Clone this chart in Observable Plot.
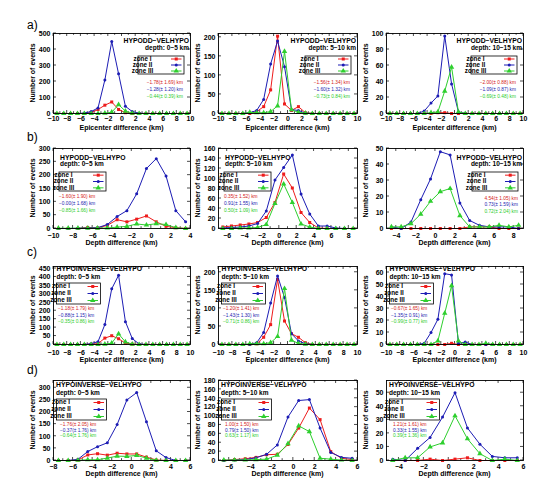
<!DOCTYPE html>
<html><head><meta charset="utf-8">
<script src="https://cdn.jsdelivr.net/npm/d3@7"></script>
<script src="https://cdn.jsdelivr.net/npm/@observablehq/plot@0.6"></script>
<style>
body{margin:0;background:#fff;}
#root{position:relative;width:558px;height:485px;overflow:hidden;font-family:"Liberation Sans",Arial,Helvetica,sans-serif;}
.rowlab{position:absolute;font-size:12px;line-height:12px;color:#000;}
</style></head><body><div id="root"></div>
<script>
// ---------- data ----------
const zoneNames = ["zone I", "zone II", "zone III"];
const epiX = [-9.5,-8.5,-7.5,-6.5,-5.5,-4.5,-3.5,-2.5,-1.5,-0.5,0.5,1.5,2.5,3.5,4.5,5.5,6.5,7.5,8.5,9.5];
const b1X = [-9.5,-8.5,-7.5,-6.5,-5.5,-4.5,-3.5,-2.5,-1.5,-0.5,0.5,1.5,2.5,3.5];
const b2X = [-6.5,-5.5,-4.5,-3.5,-2.5,-1.5,-0.5,0.5,1.5,2.5,3.5,4.5,5.5,6.5,7.5,8.5];
const b3X = [-4.5,-3.5,-2.5,-1.5,-0.5,0.5,1.5,2.5,3.5,4.5,5.5,6.5,7.5,8.5];
const d1X = [-7.5,-6.5,-5.5,-4.5,-3.5,-2.5,-1.5,-0.5,0.5,1.5,2.5,3.5,4.5,5.5];
const d2X = [-6.5,-5.5,-4.5,-3.5,-2.5,-1.5,-0.5,0.5,1.5,2.5,3.5,4.5,5.5];
const d3X = [-4.5,-3.5,-2.5,-1.5,-0.5,0.5,1.5,2.5,3.5,4.5,5.5];

const a1Z1 = [0,0,0,0,0,5,25,52,72,25,5,0,0,0,0,0,0,0,0,0];
const a1Z2 = [0,0,0,0,3,12,35,210,450,248,45,12,2,0,0,0,0,0,0,0];
const a1Z3 = [0,0,0,0,0,0,0,2,8,55,15,2,0,0,0,0,0,0,0,0];
const a2Z1 = [0,0,0,0,0,5,18,62,203,25,8,18,2,0,0,0,0,0,0,0];
const a2Z2 = [0,0,0,0,2,8,37,130,190,123,10,8,1,0,0,0,0,0,0,0];
const a2Z3 = [0,0,0,0,3,2,2,5,20,163,10,3,1,0,0,0,0,0,0,0];
const a3Z1 = [0,0,0,0,0,0,0,1,1,0,0,0,0,0,0,0,0,0,0,0];
const a3Z2 = [0,0,0,0,0,3,13,22,97,37,2,0,0,0,0,0,0,0,0,0];
const a3Z3 = [0,0,0,0,0,0,1,2,28,58,2,0,0,0,0,0,0,0,0,0];

const b1Z1 = [0,0,0,4,2,12,33,25,35,47,25,8,3,0];
const b1Z2 = [0,0,1,2,3,15,45,67,130,225,262,197,67,25];
const b1Z3 = [1,1,1,1,1,2,5,8,17,13,18,15,3,0];
const b2Z1 = [3,5,7,9,12,22,52,109,81,32,12,1,0,0,0,0];
const b2Z2 = [1,2,3,5,10,35,97,122,147,69,29,5,5,1,0,0];
const b2Z3 = [0,0,1,1,2,8,50,89,52,9,3,0,0,0,0,0];
const b3Z1 = [0,0,0,0,0,0,0,0,1,1,1,0,0,0];
const b3Z2 = [1,0,4,18,31,48,46,16,5,2,1,1,1,0];
const b3Z3 = [1,1,3,9,17,23,25,8,1,1,1,2,1,2];

const c1Z1 = [0,0,0,0,0,2,5,38,52,34,8,2,0,0,0,0,0,0,0,0];
const c1Z2 = [0,0,0,0,0,5,17,118,330,410,135,35,3,0,0,0,0,0,0,0];
const c1Z3 = [0,0,0,0,0,0,0,2,8,63,15,2,0,0,0,0,0,0,0,0];
const c2Z1 = [0,0,0,0,0,2,20,55,180,65,30,20,5,0,0,0,0,0,0,0];
const c2Z2 = [0,0,0,0,0,5,33,115,190,130,30,10,2,0,0,0,0,0,0,0];
const c2Z3 = [0,0,0,0,2,2,2,5,22,155,12,3,1,0,0,0,0,0,0,0];
const c3Z1 = [0,0,0,0,0,0,0,0,0,1,0,0,0,0,0,0,0,0,0,0];
const c3Z2 = [0,0,0,0,0,1,10,21,59,58,1,2,0,0,0,0,0,0,0,0];
const c3Z3 = [0,0,0,0,0,0,0,3,26,49,3,0,0,0,1,0,0,0,0,0];

const d1Z1 = [0,0,2,23,28,22,30,27,27,14,2,0,0,0];
const d1Z2 = [0,0,5,37,57,73,148,250,280,160,40,12,0,0];
const d1Z3 = [0,0,1,3,3,10,18,17,21,10,1,0,0,0];
const d2Z1 = [0,2,4,7,13,14,36,73,118,92,20,5,2];
const d2Z2 = [0,1,2,6,14,35,98,135,137,73,18,7,5];
const d2Z3 = [1,1,1,2,3,12,38,78,65,5,3,1,0];
const d3Z1 = [0,0,0,1,0,1,2,0,0,0,0];
const d3Z2 = [1,0,9,17,32,50,24,12,3,2,2];
const d3Z3 = [0,2,2,10,13,33,16,5,0,1,0];

const epiTicks = [-10,-8,-6,-4,-2,0,2,4,6,8,10];
const b1Ticks = [-10,-8,-6,-4,-2,0,2,4];
const b2Ticks = [-6,-4,-2,0,2,4,6,8];
const b3Ticks = [-4,-2,0,2,4,6,8];
const d1Ticks = [-8,-6,-4,-2,0,2,4,6];
const d2Ticks = [-6,-4,-2,0,2,4,6];
const d3Ticks = [-4,-2,0,2,4,6];

const titleDD = "HYPODD\u2212VELHYPO";
const titleINV = "HYPOINVERSE\u2212VELHYPO";
const depthLabels = ["depth: 0\u22125 km", "depth: 5\u221210 km", "depth: 10\u221215 km"];
const epiLabel = "Epicenter difference (km)";
const depthLabel = "Depth difference (km)";
const yLabel = "Number of events";
const rowLabels = ["a)", "b)", "c)", "d)"];

const a1Stats = ["\u22121.78(\u00b1 1.69) km", "\u22121.28(\u00b1 1.20) km", "\u22120.44(\u00b1 0.39) km"];
const a2Stats = ["\u22121.56(\u00b1 1.34) km", "\u22121.60(\u00b1 1.32) km", "\u22120.73(\u00b1 0.84) km"];
const a3Stats = ["\u22122.00(\u00b1 0.88) km", "\u22121.09(\u00b1 0.87) km", "\u22120.69(\u00b1 0.48) km"];
const b1Stats = ["\u22121.60(\u00b1 1.90) km", "\u22120.00(\u00b1 1.68) km", "\u22120.85(\u00b1 1.66) km"];
const b2Stats = ["0.35(\u00b1 1.52) km", "0.91(\u00b1 1.55) km", "0.50(\u00b1 1.09) km"];
const b3Stats = ["4.54(\u00b1 1.05) km", "0.73(\u00b1 1.59) km", "0.72(\u00b1 2.04) km"];
const c1Stats = ["\u22121.18(\u00b1 1.79) km", "\u22120.88(\u00b1 1.15) km", "\u22120.35(\u00b1 0.86) km"];
const c2Stats = ["\u22121.20(\u00b1 1.41) km", "\u22121.43(\u00b1 1.30) km", "\u22120.71(\u00b1 0.86) km"];
const c3Stats = ["\u22120.67(\u00b1 1.65) km", "\u22121.35(\u00b1 0.91) km", "\u22120.99(\u00b1 0.77) km"];
const d1Stats = ["\u22121.76(\u00b1 2.05) km", "\u22120.37(\u00b1 1.76) km", "\u22120.64(\u00b1 1.76) km"];
const d2Stats = ["1.00(\u00b1 1.50) km", "0.79(\u00b1 1.50) km", "0.63(\u00b1 1.17) km"];
const d3Stats = ["1.21(\u00b1 1.61) km", "0.33(\u00b1 1.55) km", "0.39(\u00b1 1.36) km"];

// ---------- style ----------
const FONT = '"Liberation Sans", Arial, Helvetica, sans-serif';
const COLORS = ["#ee1c1c", "#1c1cb4", "#2ecf2e"];
const TEXTCOL = ["#d42020", "#2424b0", "#2ccc2c"];
const SYMBOLS = ["square", "circle", "triangle"];
const SYMR = [1.7, 1.5, 2.0];

const cols = [[53, 137], [218, 139], [386, 137]];
const rowsGeo = [[33, 80], [148, 80], [266, 78], [380, 80]];
const rowTickPad = [3, 4.5, 5.5, 4];
const rowTitleOff = [15.5, 15.5, 16.5, 13.8];

const lay = {
  a: {title: 8.5, depth: 15.5, boxIn: 6, boxW: 46, boxT: 23, boxH: 18, statIn: 7, statY: [50, 57, 64], titleIn: 1},
  b: {title: 10, depth: 16.5, boxIn: 6, boxW: 47, boxT: 24, boxH: 19, statIn: 6, statY: [49, 56, 63], titleIn: 7},
  bR: {title: 10, depth: 16.5, boxIn: 5, boxW: 46, boxT: 24, boxH: 19, statIn: 5, statY: [51, 57, 63.5], titleIn: 1},
  c: {title: 3, depth: 11, boxIn: 3.5, boxW: 44, boxT: 17, boxH: 21, statIn: 5, statY: [43, 49.5, 56], titleIn: 3.5},
  d: {title: 5.5, depth: 13, boxIn: 3.5, boxW: 50, boxT: 19, boxH: 21, statIn: 7, statY: [45, 50.5, 56], titleIn: 3}
};

const panels = [
  {r:0,c:0,x:epiX,z:[a1Z1,a1Z2,a1Z3],xd:[-10,10],yd:[0,500],xt:epiTicks,yt:[0,100,200,300,400,500],title:titleDD,depth:depthLabels[0],stats:a1Stats,xl:epiLabel,side:"right",L:lay.a},
  {r:0,c:1,x:epiX,z:[a2Z1,a2Z2,a2Z3],xd:[-10,10],yd:[0,210],xt:epiTicks,yt:[0,50,100,150,200],title:titleDD,depth:depthLabels[1],stats:a2Stats,xl:epiLabel,side:"right",L:lay.a},
  {r:0,c:2,x:epiX,z:[a3Z1,a3Z2,a3Z3],xd:[-10,10],yd:[0,100],xt:epiTicks,yt:[0,20,40,60,80,100],title:titleDD,depth:depthLabels[2],stats:a3Stats,xl:epiLabel,side:"right",L:lay.a},
  {r:1,c:0,x:b1X,z:[b1Z1,b1Z2,b1Z3],xd:[-10,4],yd:[0,300],xt:b1Ticks,yt:[0,50,100,150,200,250,300],title:titleDD,depth:depthLabels[0],stats:b1Stats,xl:depthLabel,side:"left",L:lay.b},
  {r:1,c:1,x:b2X,z:[b2Z1,b2Z2,b2Z3],xd:[-7,9],yd:[0,160],xt:b2Ticks,yt:[0,20,40,60,80,100,120,140,160],title:titleDD,depth:depthLabels[1],stats:b2Stats,xl:depthLabel,side:"left",L:lay.b},
  {r:1,c:2,x:b3X,z:[b3Z1,b3Z2,b3Z3],xd:[-5,9],yd:[0,50],xt:b3Ticks,yt:[0,10,20,30,40,50],title:titleDD,depth:depthLabels[2],stats:b3Stats,xl:depthLabel,side:"right",L:lay.bR},
  {r:2,c:0,x:epiX,z:[c1Z1,c1Z2,c1Z3],xd:[-10,10],yd:[0,462],xt:epiTicks,yt:[0,50,100,150,200,250,300,350,400,450],title:titleINV,depth:depthLabels[0],stats:c1Stats,xl:epiLabel,side:"left",L:lay.c},
  {r:2,c:1,x:epiX,z:[c2Z1,c2Z2,c2Z3],xd:[-10,10],yd:[0,216],xt:epiTicks,yt:[0,50,100,150,200],title:titleINV,depth:depthLabels[1],stats:c2Stats,xl:epiLabel,side:"left",L:lay.c},
  {r:2,c:2,x:epiX,z:[c3Z1,c3Z2,c3Z3],xd:[-10,10],yd:[0,65],xt:epiTicks,yt:[0,10,20,30,40,50,60],title:titleINV,depth:depthLabels[2],stats:c3Stats,xl:epiLabel,side:"left",L:lay.c},
  {r:3,c:0,x:d1X,z:[d1Z1,d1Z2,d1Z3],xd:[-8,6],yd:[0,330],xt:d1Ticks,yt:[0,50,100,150,200,250,300],title:titleINV,depth:depthLabels[0],stats:d1Stats,xl:depthLabel,side:"left",L:lay.d},
  {r:3,c:1,x:d2X,z:[d2Z1,d2Z2,d2Z3],xd:[-7,6],yd:[0,180],xt:d2Ticks,yt:[0,20,40,60,80,100,120,140,160,180],title:titleINV,depth:depthLabels[1],stats:d2Stats,xl:depthLabel,side:"left",L:lay.d},
  {r:3,c:2,x:d3X,z:[d3Z1,d3Z2,d3Z3],xd:[-5,6],yd:[0,59],xt:d3Ticks,yt:[0,10,20,30,40,50],title:titleINV,depth:depthLabels[2],stats:d3Stats,xl:depthLabel,side:"left",L:lay.d}
];

const root = document.getElementById("root");
const ML = 42, MR = 10, MT = 8, MB = 24;

function decor(p) {
  return (index, scales, values, dims) => {
    const sx = scales.x, sy = scales.y;
    const g = d3.create("svg:g").attr("font-family", FONT).attr("fill", "#000");
    const L = dims.marginLeft, R = dims.width - dims.marginRight, T = dims.marginTop, B = dims.height - dims.marginBottom;
    const tk = g.append("g").attr("stroke", "#000").attr("stroke-width", 0.7);
    const step = p.xt[1] - p.xt[0];
    const minor = p.xt.map(t => t + step / 2).filter(t => t > p.xd[0] && t < p.xd[1]);
    for (const t of p.xt) {
      const X = sx(t);
      tk.append("line").attr("x1", X).attr("x2", X).attr("y1", B).attr("y2", B - 3);
      tk.append("line").attr("x1", X).attr("x2", X).attr("y1", T).attr("y2", T + 3);
    }
    for (const t of minor) {
      const X = sx(t);
      tk.append("line").attr("x1", X).attr("x2", X).attr("y1", B).attr("y2", B - 1.8);
      tk.append("line").attr("x1", X).attr("x2", X).attr("y1", T).attr("y2", T + 1.8);
    }
    for (const t of p.yt) {
      const Y = sy(t);
      tk.append("line").attr("x1", L).attr("x2", L + 3).attr("y1", Y).attr("y2", Y);
      tk.append("line").attr("x1", R).attr("x2", R - 3).attr("y1", Y).attr("y2", Y);
    }
    // axis titles
    g.append("text").attr("x", (L + R) / 2).attr("y", B + rowTitleOff[p.r]).attr("text-anchor", "middle")
      .attr("dominant-baseline", "middle").attr("font-size", 7).attr("font-weight", "bold").text(p.xl);
    g.append("text").attr("transform", `translate(${L - 20},${(T + B) / 2}) rotate(-90)`)
      .attr("text-anchor", "middle").attr("dominant-baseline", "middle").attr("font-size", 7)
      .attr("font-weight", "bold").text(yLabel);
    const lo = p.L;
    const right = p.side === "right";
    const tx = right ? R - lo.titleIn : L + lo.titleIn;
    const anc = right ? "end" : "start";
    g.append("text").attr("x", tx).attr("y", T + lo.title).attr("text-anchor", anc).attr("dominant-baseline", "middle")
      .attr("font-size", 6.8).attr("font-weight", "bold").text(p.title);
    g.append("text").attr("x", tx).attr("y", T + lo.depth).attr("text-anchor", anc).attr("dominant-baseline", "middle")
      .attr("font-size", 6.5).attr("font-weight", "bold").text(p.depth);
    // legend box
    const bx = right ? R - lo.boxIn - lo.boxW : L + lo.boxIn;
    const by = T + lo.boxT;
    g.append("rect").attr("x", bx).attr("y", by).attr("width", lo.boxW).attr("height", lo.boxH)
      .attr("fill", "#fff").attr("stroke", "#000").attr("stroke-width", 0.8);
    zoneNames.forEach((name, i) => {
      const yy = by + (i + 0.5) * lo.boxH / 3;
      g.append("text").attr("x", bx + 4.5).attr("y", yy).attr("dominant-baseline", "middle")
        .attr("font-size", 6.3).attr("font-weight", "bold").text(name);
      const lx1 = bx + lo.boxW - 13, lx2 = bx + lo.boxW - 2.5;
      g.append("line").attr("x1", lx1).attr("x2", lx2).attr("y1", yy).attr("y2", yy)
        .attr("stroke", COLORS[i]).attr("stroke-width", 1);
      const sym = [d3.symbolSquare, d3.symbolCircle, d3.symbolTriangle][i];
      g.append("path").attr("transform", `translate(${(lx1 + lx2) / 2},${yy})`)
        .attr("d", d3.symbol(sym, Math.PI * SYMR[i] * SYMR[i])()).attr("fill", COLORS[i]);
    });
    // stats
    const sxp = right ? R - lo.statIn : L + lo.statIn;
    p.stats.forEach((s, i) => {
      g.append("text").attr("x", sxp).attr("y", T + lo.statY[i]).attr("text-anchor", anc)
        .attr("dominant-baseline", "middle").attr("font-size", 4.8).attr("fill", TEXTCOL[i]).text(s);
    });
    return g.node();
  };
}

for (const p of panels) {
  const [fl, fw] = cols[p.c];
  const [ft, fh] = rowsGeo[p.r];
  const series = p.z.map((vals, k) => p.x.map((xv, i) => ({x: xv, y: vals[i], zone: zoneNames[k]})));
  const marks = [];
  series.forEach((s, k) => {
    marks.push(Plot.line(s, {x: "x", y: "y", stroke: COLORS[k], strokeWidth: 1}));
    marks.push(Plot.dot(s, {x: "x", y: "y", fill: COLORS[k], symbol: SYMBOLS[k], r: SYMR[k], stroke: "none"}));
  });
  const chart = Plot.plot({
    width: fw + ML + MR, height: fh + MT + MB,
    marginLeft: ML, marginRight: MR, marginTop: MT, marginBottom: MB,
    style: {fontFamily: FONT, fontSize: "7px", background: "transparent", overflow: "visible", color: "#000"},
    x: {domain: p.xd}, y: {domain: p.yd},
    marks: [
      Plot.axisX({ticks: p.xt, tickSize: 0, tickPadding: rowTickPad[p.r], label: null, fontWeight: "bold"}),
      Plot.axisY({ticks: p.yt, tickSize: 0, tickPadding: 3, label: null, fontWeight: "bold"}),
      decor(p),
      ...marks,
      Plot.frame({stroke: "#000", strokeWidth: 0.9})
    ]
  });
  chart.style.position = "absolute";
  chart.style.left = (fl - ML) + "px";
  chart.style.top = (ft - MT) + "px";
  root.appendChild(chart);
}

const rowLabY = [19, 131, 246, 364];
rowLabels.forEach((t, i) => {
  const d = document.createElement("div");
  d.className = "rowlab";
  d.style.left = "27px";
  d.style.top = rowLabY[i] + "px";
  d.textContent = t;
  root.appendChild(d);
});
</script>
</body></html>
